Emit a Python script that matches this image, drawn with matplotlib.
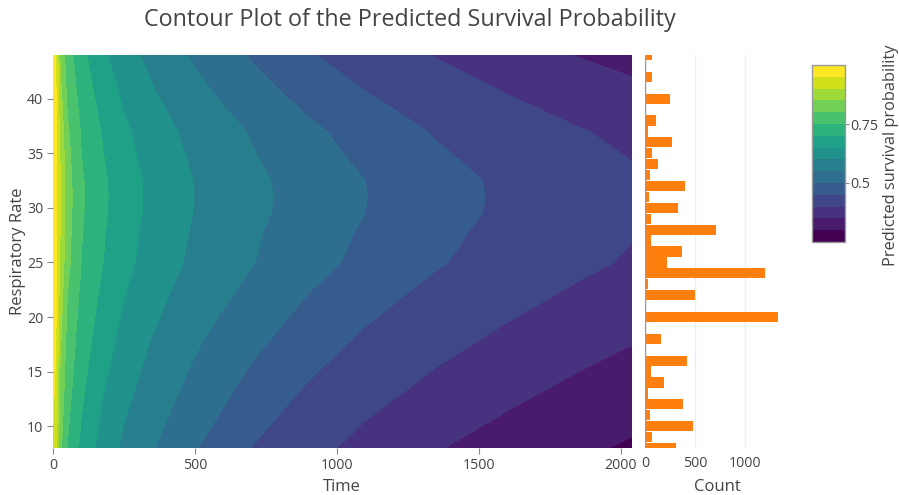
import numpy as np
import matplotlib
matplotlib.use('Agg')
import matplotlib.pyplot as plt

plt.rcParams['font.family'] = ['Open Sans', 'DejaVu Sans']

# survival grid (rows = respiratory rate, cols = time)
times = [0, 10, 25, 50, 100, 175, 250, 350, 500, 700, 900, 1100, 1350, 1600, 1850, 2040]
rates = [8, 14, 20, 25, 28, 29.5, 31, 32.5, 34, 37, 40, 44]
surv = [
    [0.945, 0.919, 0.814, 0.749, 0.688, 0.629, 0.590, 0.553, 0.503, 0.449, 0.415, 0.385, 0.353, 0.329, 0.308, 0.294],
    [0.958, 0.944, 0.841, 0.772, 0.712, 0.656, 0.617, 0.580, 0.538, 0.489, 0.449, 0.421, 0.392, 0.366, 0.344, 0.330],
    [0.975, 0.955, 0.869, 0.793, 0.732, 0.681, 0.643, 0.607, 0.567, 0.524, 0.487, 0.455, 0.426, 0.403, 0.381, 0.365],
    [0.975, 0.960, 0.894, 0.814, 0.749, 0.701, 0.664, 0.628, 0.589, 0.552, 0.517, 0.487, 0.454, 0.430, 0.410, 0.395],
    [0.975, 0.960, 0.900, 0.819, 0.753, 0.705, 0.669, 0.633, 0.595, 0.557, 0.524, 0.495, 0.462, 0.437, 0.417, 0.403],
    [0.975, 0.961, 0.903, 0.822, 0.756, 0.708, 0.673, 0.637, 0.598, 0.561, 0.529, 0.500, 0.467, 0.441, 0.421, 0.408],
    [0.975, 0.961, 0.904, 0.823, 0.757, 0.709, 0.674, 0.638, 0.599, 0.562, 0.530, 0.501, 0.468, 0.442, 0.422, 0.409],
    [0.975, 0.961, 0.903, 0.822, 0.756, 0.708, 0.673, 0.637, 0.598, 0.561, 0.529, 0.500, 0.467, 0.441, 0.421, 0.408],
    [0.975, 0.960, 0.899, 0.818, 0.752, 0.704, 0.668, 0.632, 0.594, 0.556, 0.522, 0.493, 0.460, 0.435, 0.415, 0.401],
    [0.975, 0.958, 0.888, 0.808, 0.745, 0.696, 0.659, 0.623, 0.584, 0.546, 0.510, 0.479, 0.446, 0.423, 0.403, 0.389],
    [0.970, 0.955, 0.869, 0.793, 0.732, 0.681, 0.643, 0.607, 0.567, 0.524, 0.487, 0.455, 0.426, 0.403, 0.381, 0.365],
    [0.958, 0.949, 0.845, 0.775, 0.714, 0.659, 0.621, 0.584, 0.543, 0.495, 0.454, 0.426, 0.398, 0.371, 0.348, 0.335],
]
levels = [0.273, 0.30, 0.35, 0.40, 0.45, 0.50, 0.55, 0.60, 0.65, 0.70, 0.75, 0.80, 0.85, 0.90, 0.95, 0.98]

# histogram of respiratory rate
rr_bins = list(range(8, 45))
rr_counts = [309, 67, 480, 54, 376, 27, 191, 60, 417, 0, 161, 3, 1334, 10, 497, 27, 1200,
             215, 370, 60, 709, 60, 329, 40, 403, 50, 128, 74, 269, 27, 107, 5, 245, 5, 74, 5, 67]

W, H = 899, 495
TXT = '#444444'
TICK = 10.2


def box(l, t, r, b):
    return [l / W, 1 - b / H, (r - l) / W, (b - t) / H]


fig = plt.figure(figsize=(W / 100, H / 100), dpi=100)
ax = fig.add_axes(box(53, 55, 632, 448))
axh = fig.add_axes(box(645, 55, 790, 448))
cax = fig.add_axes(box(812, 65, 845, 242))

# contour panel
band_colors = plt.cm.viridis(np.linspace(0, 1, len(levels) - 1))
cf = ax.contourf(times, rates, np.array(surv), levels=levels, colors=band_colors)
ax.set_xlim(0, 2040)
ax.set_ylim(8, 44)
ax.set_xticks([0, 500, 1000, 1500, 2000])
ax.set_yticks([10, 15, 20, 25, 30, 35, 40])
for s in ax.spines.values():
    s.set_visible(False)
ax.tick_params(labelsize=TICK, colors='#888888', labelcolor=TXT, length=4, width=0.8, pad=3)

# histogram panel
axh.barh(rr_bins, rr_counts, height=0.94, color='#ff7f0e', zorder=3)
axh.set_ylim(8, 44)
axh.set_xlim(0, 1450)
axh.set_xticks([0, 500, 1000])
axh.set_yticks([])
axh.grid(axis='x', color='#eeeeee', lw=1, zorder=0)
axh.axvline(0, color='#999999', lw=1, zorder=4)
for s in axh.spines.values():
    s.set_visible(False)
axh.tick_params(labelsize=TICK, labelcolor=TXT, length=0, pad=6)

# colorbar
cb = fig.colorbar(cf, cax=cax, ticks=[0.5, 0.75])
cb.ax.set_yticklabels(['0.5', '0.75'])
cb.outline.set_edgecolor('#999999')
cb.outline.set_linewidth(1)
cb.ax.tick_params(labelsize=TICK, colors='#888888', labelcolor=TXT, length=3, width=0.8, pad=1)

# texts
fig.text(410 / W, 1 - 20 / H, 'Contour Plot of the Predicted Survival Probability',
         ha='center', va='center', fontsize=16.8, color=TXT)
fig.text(342 / W, 1 - 487 / H, 'Time', ha='center', va='center', fontsize=12, color=TXT)
fig.text(717 / W, 1 - 487 / H, 'Count', ha='center', va='center', fontsize=12, color=TXT)
fig.text(18 / W, 1 - 251 / H, 'Respiratory Rate', ha='center', va='center',
         rotation=90, fontsize=12, color=TXT)
fig.text(891 / W, 1 - 155 / H, 'Predicted survival probability', ha='center', va='center',
         rotation=90, fontsize=11.8, color=TXT)

fig.savefig('out.png', dpi=100)
